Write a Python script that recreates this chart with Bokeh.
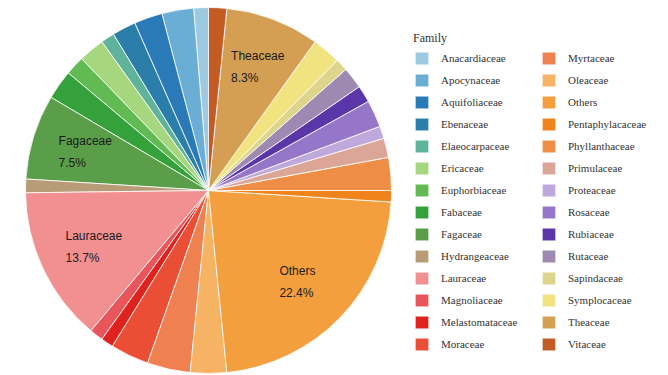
import math
from bokeh.plotting import figure
from bokeh.models import Legend, LegendItem, ColumnDataSource, Range1d
from bokeh.embed import file_html
from bokeh.resources import INLINE
from bokeh.core.properties import value

families = ["Anacardiaceae", "Apocynaceae", "Aquifoliaceae", "Ebenaceae", "Elaeocarpaceae",
            "Ericaceae", "Euphorbiaceae", "Fabaceae", "Fagaceae", "Hydrangeaceae",
            "Lauraceae", "Magnoliaceae", "Melastomataceae", "Moraceae",
            "Myrtaceae", "Oleaceae", "Others", "Pentaphylacaceae", "Phyllanthaceae",
            "Primulaceae", "Proteaceae", "Rosaceae", "Rubiaceae", "Rutaceae",
            "Sapindaceae", "Symplocaceae", "Theaceae", "Vitaceae"]
shares = [1.3, 2.8, 2.5, 2.1, 1.2, 2.3, 1.7, 2.6, 7.5, 1.2, 13.7, 1.2, 1.1, 3.4,
          3.8, 3.2, 22.4, 1.0, 2.9, 1.7, 1.1, 2.4, 1.5, 1.9, 1.1, 2.5, 8.3, 1.6]
colors = ["#9ecae1", "#6aaed6", "#2a7ab8", "#2b7eaa", "#5fb39a", "#a6d77e", "#62bb52",
          "#34a13a", "#5b9e49", "#b89c78", "#f28f90", "#e8565b", "#e0221f", "#ea4e35",
          "#ef8050", "#f6b363", "#f49f3e", "#f0841a", "#ee8d45", "#dca696", "#bea8dc",
          "#9676c9", "#5b36a8", "#9e89b2", "#ddd58c", "#f0e380", "#d49e53", "#c35b24"]
labelled = ["Fagaceae", "Lauraceae", "Others", "Theaceae"]

R = 183
total = sum(shares)
starts, ends, mids = [], [], []
acc = 0.0
for s in shares:
    a0 = math.pi / 2 + 2 * math.pi * acc / total
    acc += s
    a1 = math.pi / 2 + 2 * math.pi * acc / total
    starts.append(a0)
    ends.append(a1)
    mids.append((a0 + a1) / 2)

src = ColumnDataSource(dict(family=families, share=shares, color=colors, start=starts, end=ends))

p = figure(width=668, height=375, output_backend="svg", toolbar_location=None,
           x_range=Range1d(-208, 460), y_range=Range1d(-185, 190), min_border=0,
           x_axis_location=None, y_axis_location=None)
p.grid.visible = False
p.outline_line_color = None
p.background_fill_color = "white"

r = p.wedge(x=0, y=0, radius=R, start_angle="start", end_angle="end",
            fill_color="color", line_color="white", line_width=0.8, source=src)

lx, ly, ln, lp = [], [], [], []
for i, f in enumerate(families):
    if f in labelled:
        d = 0.72 * R
        lx.append(d * math.cos(mids[i]))
        ly.append(d * math.sin(mids[i]))
        ln.append(f)
        lp.append(f"{shares[i]}%")
lsrc = ColumnDataSource(dict(x=lx, y=ly, name=ln, pct=lp))
p.text(x="x", y="y", text="name", source=lsrc, text_font=value("Liberation Sans"),
       text_font_size="12px", text_color="#1a1a1a", text_align="left",
       text_baseline="middle", x_offset=-24, y_offset=-11)
p.text(x="x", y="y", text="pct", source=lsrc, text_font=value("Liberation Sans"),
       text_font_size="12px", text_color="#1a1a1a", text_align="left",
       text_baseline="middle", x_offset=-24, y_offset=11)

def make_legend(idx, loc, title=None):
    items = [LegendItem(label=families[i], renderers=[r], index=i) for i in idx]
    lg = Legend(items=items, location=loc, orientation="vertical",
                glyph_width=17, glyph_height=16, label_height=16, spacing=6,
                label_standoff=11, padding=0, margin=0,
                border_line_color=None, background_fill_alpha=0,
                label_text_font="Liberation Serif", label_text_font_size="11px",
                label_text_color="#333333")
    if title:
        lg.title = title
        lg.title_text_font = "Liberation Serif"
        lg.title_text_font_size = "12px"
        lg.title_text_font_style = "normal"
        lg.title_text_color = "#333333"
        lg.title_standoff = 4
    return lg

p.add_layout(make_legend(range(0, 14), (413, 23), "Family"))
p.add_layout(make_legend(range(14, 28), (540, 23)))

open("out.html", "w").write(file_html(p, INLINE))
